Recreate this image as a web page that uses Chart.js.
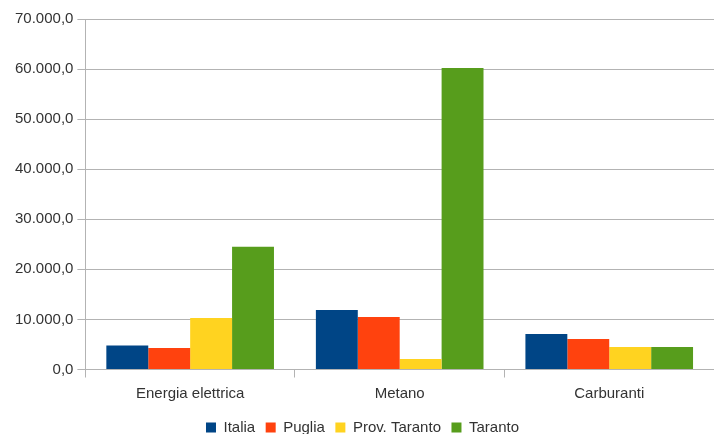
<!DOCTYPE html>
<html><head><meta charset="utf-8">
<script src="https://cdn.jsdelivr.net/npm/chart.js@4/dist/chart.umd.min.js"></script>
<style>html,body{margin:0;padding:0;background:#fff}#wrap{width:714px;height:434px}</style>
</head><body><div id="wrap"><canvas id="c" width="714" height="434"></canvas></div>
<script>
const categories = ["Energia elettrica", "Metano", "Carburanti"];
const italia = [4800, 11900, 7100];
const puglia = [4300, 10500, 6100];
const provTaranto = [10300, 2100, 4500];
const taranto = [24500, 60200, 4500];
const seriesNames = ["Italia", "Puglia", "Prov. Taranto", "Taranto"];
const colors = ["#004586", "#ff420e", "#ffd320", "#579d1c"];

function fmt(v){
  const s = Math.round(v).toString().replace(/\B(?=(\d{3})+(?!\d))/g, ".");
  return s + ",0";
}
const font = {family: "'Liberation Sans', Arial, sans-serif", size: 15};
new Chart(document.getElementById('c'), {
  type: 'bar',
  data: {
    labels: categories,
    datasets: [italia, puglia, provTaranto, taranto].map((d,i)=>({
      label: seriesNames[i], data: d, backgroundColor: colors[i],
      borderWidth: 0, categoryPercentage: 0.8, barPercentage: 1.0
    }))
  },
  options: {
    responsive: false, animation: false,
    layout: {padding: {top: 19, right: 0, left: 11, bottom: -11}},
    plugins: {
      legend: {position: 'bottom', labels: {boxWidth: 10, boxHeight: 10, padding: 10.5, color: '#333', font: font}},
      tooltip: {enabled: false}
    },
    scales: {
      x: {
        grid: {offset: true, drawOnChartArea: false, color: '#b3b3b3', tickLength: 8},
        border: {color: '#b3b3b3'},
        ticks: {color: '#333', font: font, padding: 7}
      },
      y: {
        min: 0, max: 70000,
        ticks: {stepSize: 10000, color: '#333', font: font, callback: v => fmt(v), padding: 4},
        grid: {color: '#b3b3b3', tickLength: 8},
        border: {color: '#b3b3b3'}
      }
    }
  }
});
</script></body></html>
